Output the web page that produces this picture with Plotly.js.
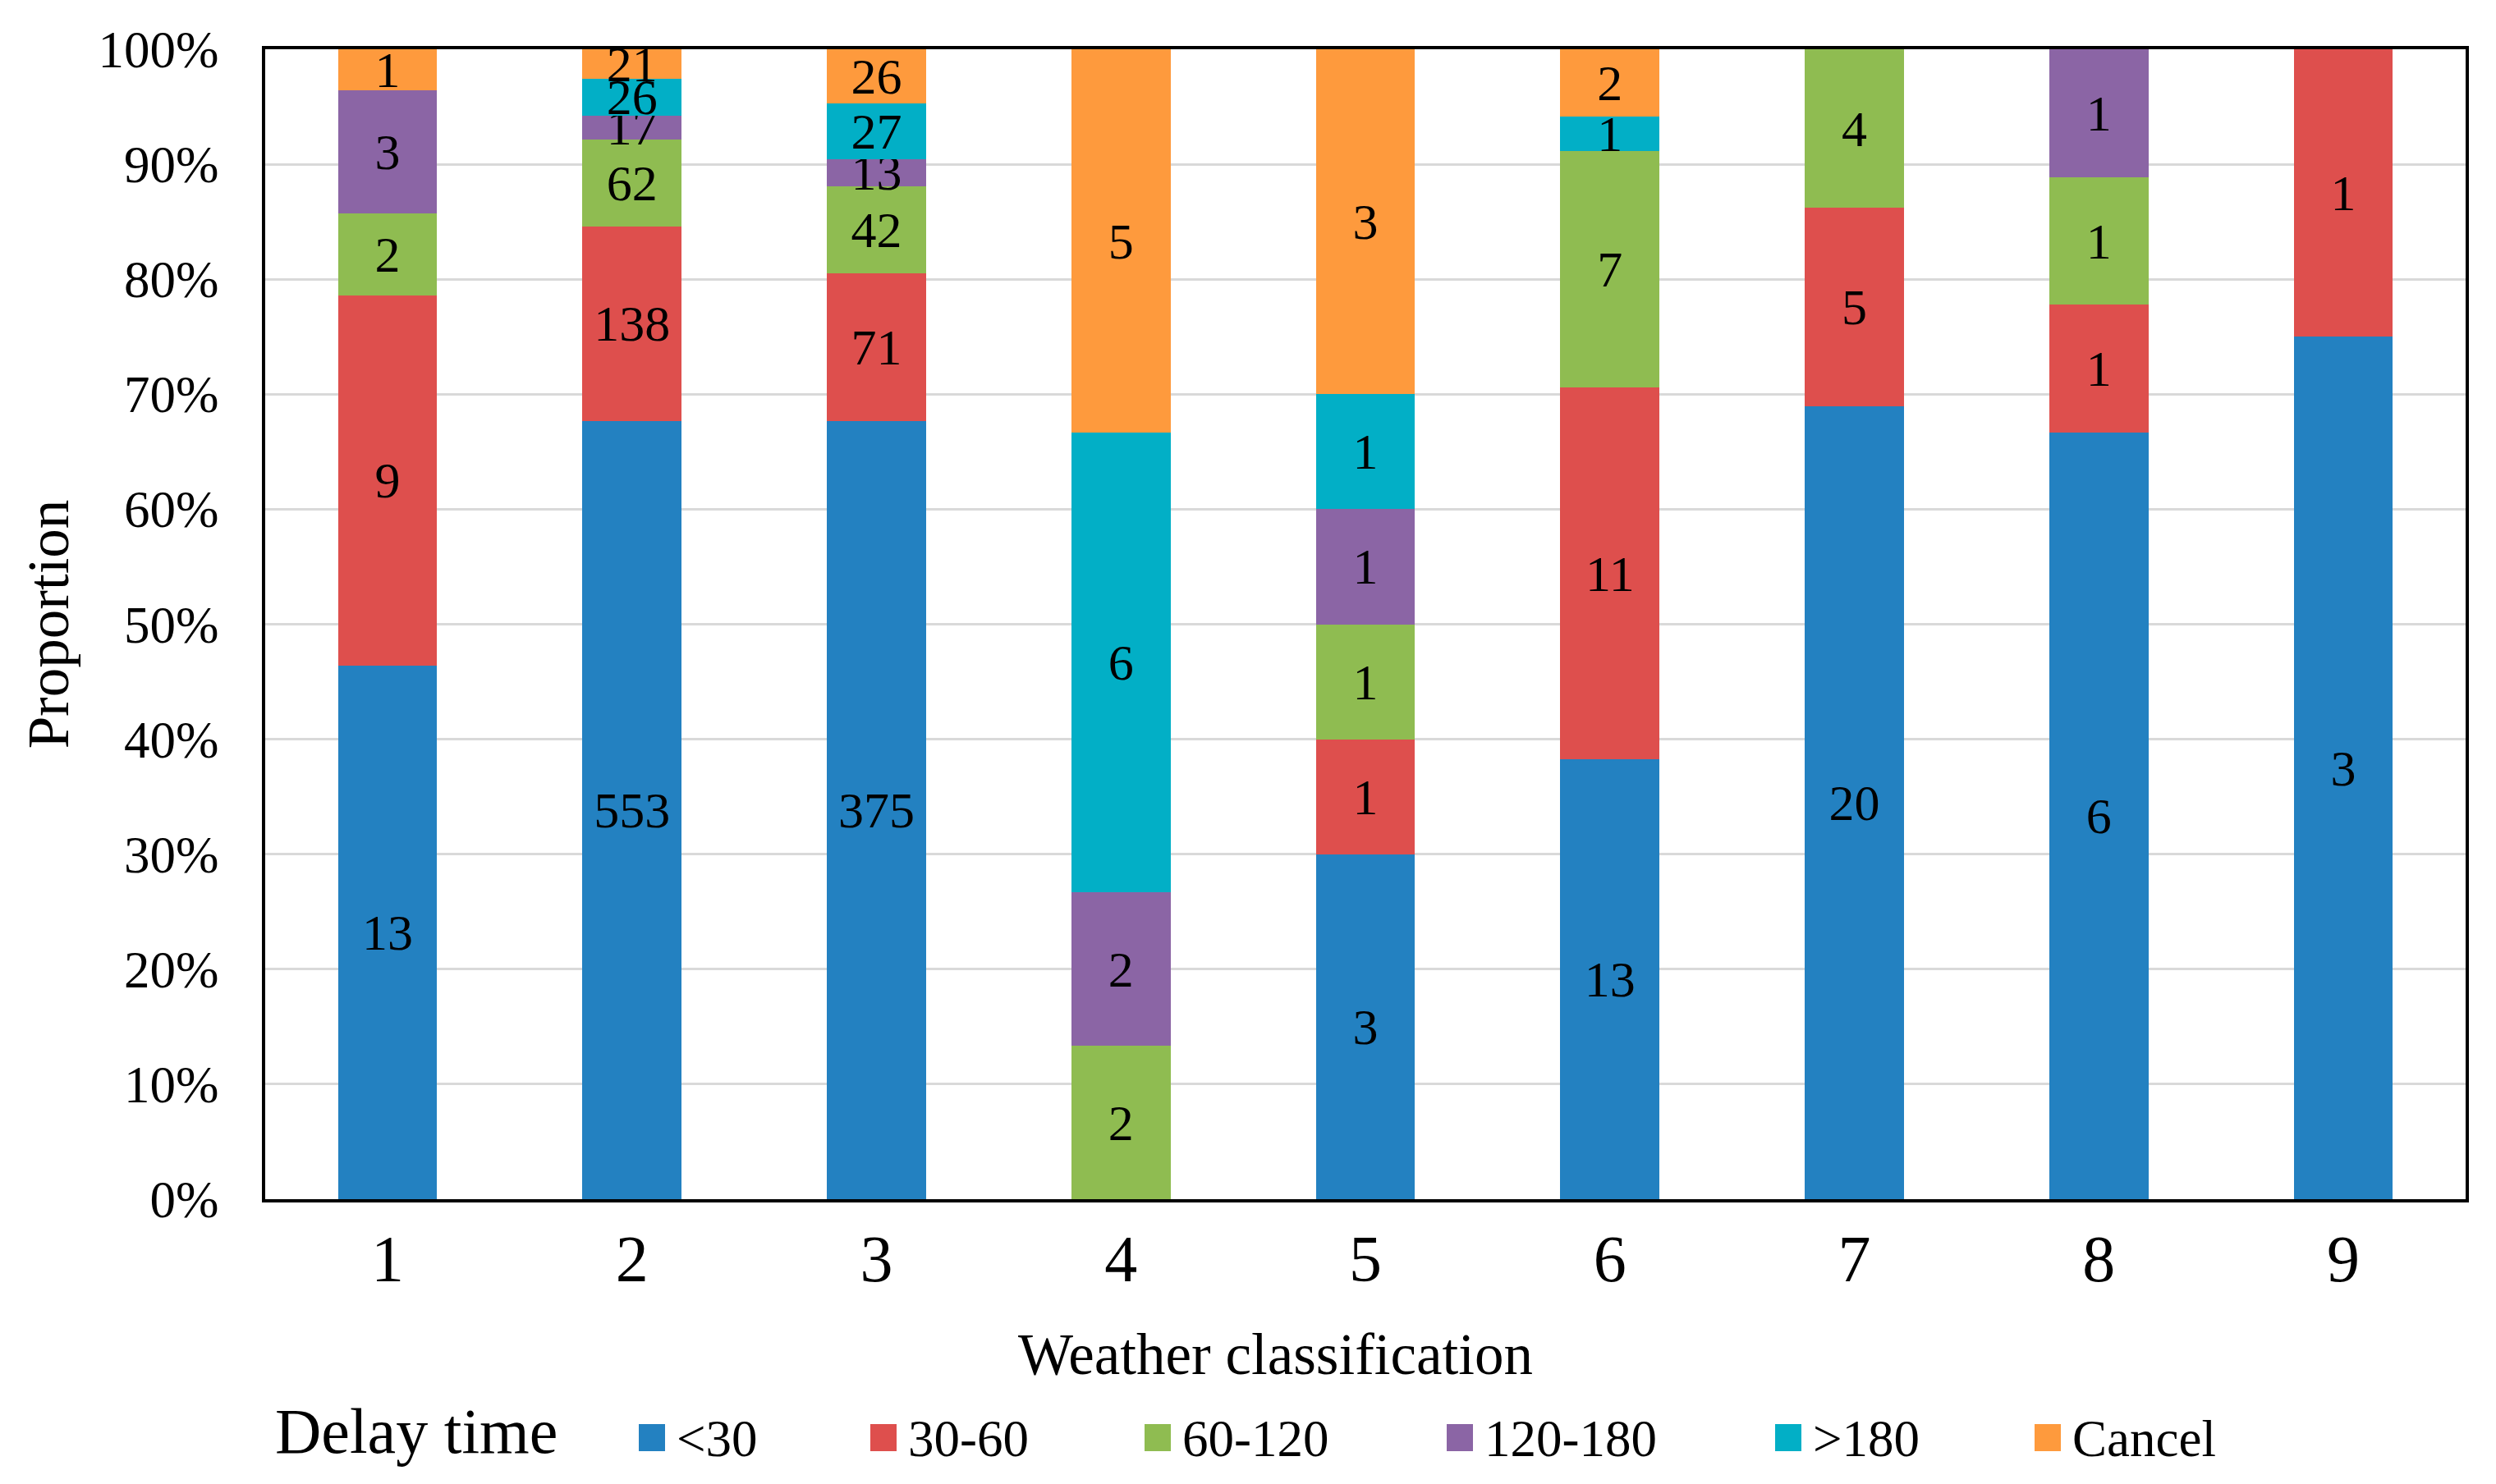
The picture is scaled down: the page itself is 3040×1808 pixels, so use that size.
<!DOCTYPE html>
<html>
<head>
<meta charset="utf-8">
<script src="https://cdn.plot.ly/plotly-3.0.1.min.js"></script>
<style>html,body{margin:0;padding:0;background:#fff;}#chart{width:3040px;height:1808px;}</style>
</head>
<body>
<div id="chart"></div>
<script>
const categories = ['1','2','3','4','5','6','7','8','9'];
const seriesNames = ['&lt;30','30-60','60-120','120-180','&gt;180','Cancel'];
const seriesColors = ['#2381C1','#DE4F4D','#8FBC51','#8B65A5','#02AFC6','#FE9A3D'];
const lt30    = [13,553,375,0,3,13,20,6,3];
const d30_60  = [9,138,71,0,1,11,5,1,1];
const d60_120 = [2,62,42,2,1,7,4,1,0];
const d120_180= [3,17,13,2,1,0,0,1,0];
const gt180   = [0,26,27,6,1,1,0,0,0];
const cancel  = [1,21,26,5,3,2,0,0,0];
const yTickVals = [0,10,20,30,40,50,60,70,80,90,100];
const yTickText = ['0%','10%','20%','30%','40%','50%','60%','70%','80%','90%','100%'];
const legendTitle = 'Delay time';
const xTitle = 'Weather classification';
const yTitle = 'Proportion';

const seriesValues = [lt30, d30_60, d60_120, d120_180, gt180, cancel];
const FONT = 'Liberation Serif, Times New Roman, serif';

const W = 3040, H = 1808;
const M = {l: 323, r: 37, t: 60, b: 347};
const PW = W - M.l - M.r, PH = H - M.t - M.b;
const px2x = px => (px - M.l) / PW;
const py2y = py => (H - M.b - py) / PH;

const traces = seriesValues.map((vals, i) => ({
  type: 'bar',
  name: seriesNames[i],
  x: categories,
  y: vals.map(v => v === 0 ? null : v),
  text: vals.map(v => v === 0 ? '' : String(v)),
  textposition: 'inside',
  insidetextanchor: 'middle',
  constraintext: 'none',
  textangle: 0,
  textfont: {family: FONT, size: 62, color: '#000'},
  marker: {color: seriesColors[i], line: {width: 0}},
  hoverinfo: 'none',
  showlegend: false
}));

// custom legend and x title (layout styling only)
const legendSquareLeft = [778, 1060, 1394, 1762, 2162, 2478];
const SQ = 32;
const shapes = [];
const annotations = [{
  xref: 'paper', yref: 'paper', x: px2x(333), y: py2y(1744),
  xanchor: 'left', yanchor: 'middle', showarrow: false,
  text: legendTitle, font: {family: FONT, size: 78, color: '#000'}
}, {
  xref: 'paper', yref: 'paper', x: px2x(1553), y: py2y(1650),
  xanchor: 'center', yanchor: 'middle', showarrow: false,
  text: xTitle, font: {family: FONT, size: 71, color: '#000'}
}];
seriesNames.forEach((n, i) => {
  const l = legendSquareLeft[i];
  shapes.push({
    type: 'rect', xref: 'paper', yref: 'paper',
    x0: px2x(l), x1: px2x(l + SQ), y0: py2y(1768), y1: py2y(1735),
    fillcolor: seriesColors[i], line: {width: 0}
  });
  annotations.push({
    xref: 'paper', yref: 'paper', x: px2x(l + SQ + 12), y: py2y(1753),
    xanchor: 'left', yanchor: 'middle', showarrow: false,
    text: n, font: {family: FONT, size: 63, color: '#000'}
  });
});

const layout = {
  width: W, height: H,
  margin: {l: M.l, r: M.r, t: M.t, b: M.b, autoexpand: false},
  paper_bgcolor: '#fff', plot_bgcolor: '#fff',
  barmode: 'stack', barnorm: 'percent', bargap: 0.595,
  font: {family: FONT, color: '#000'},
  showlegend: false,
  shapes: shapes,
  annotations: annotations,
  xaxis: {
    type: 'category', range: [-0.5, 8.5],
    showline: true, linecolor: '#000', linewidth: 4, mirror: true,
    showgrid: false, ticks: '', ticklabelstandoff: 0,
    tickfont: {family: FONT, size: 80, color: '#000'},
    automargin: false
  },
  yaxis: {
    range: [0, 100], tickmode: 'array', tickvals: yTickVals, ticktext: yTickText,
    showline: true, linecolor: '#000', linewidth: 4, mirror: true,
    showgrid: true, gridcolor: '#D9D9D9', gridwidth: 3, zeroline: false,
    ticks: '', ticklabelstandoff: 40,
    tickfont: {family: FONT, size: 63, color: '#000'},
    title: {text: yTitle, font: {family: FONT, size: 71, color: '#000'}, standoff: 14},
    automargin: false
  }
};

Plotly.newPlot('chart', traces, layout, {staticPlot: true, displayModeBar: false});
</script>
</body>
</html>
